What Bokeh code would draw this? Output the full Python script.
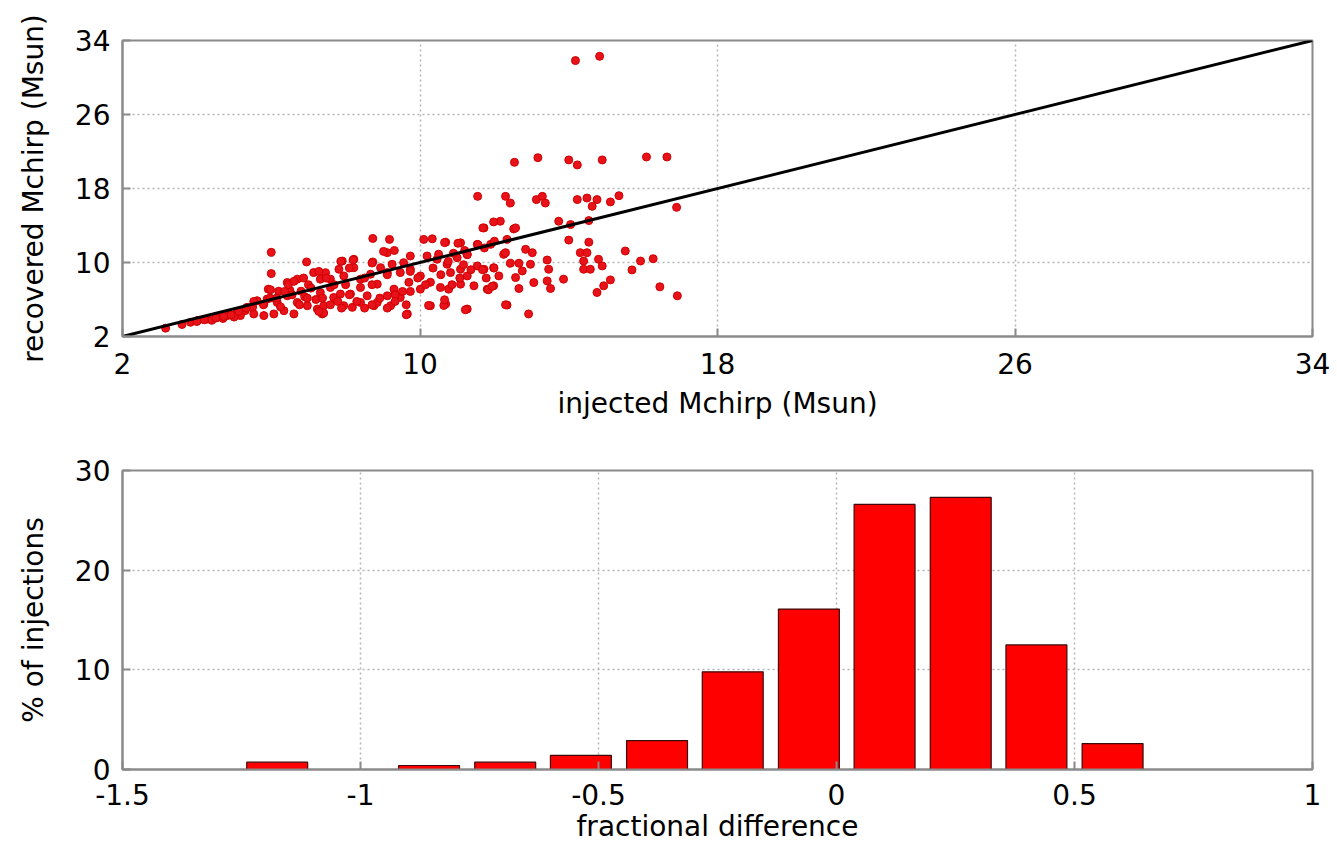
from bokeh.plotting import figure
from bokeh.layouts import column
from bokeh.models import FixedTicker, Range1d
from bokeh.embed import file_html
from bokeh.resources import INLINE

# ---------------- data ----------------
injected_mchirp = [
    6.0, 6.95, 6.0, 5.92, 6.43, 6.70, 7.14, 7.32, 5.62, 5.89, 6.16, 6.43, 6.70, 6.97, 7.24, 7.37,
    5.35, 5.08, 4.82, 5.17, 5.53, 5.80, 6.07, 4.55, 4.28, 4.01, 3.83, 3.16, 6.34, 6.61, 3.6, 4.4,
    4.7, 5.0, 5.5, 5.8, 6.2, 6.5, 6.8, 7.0, 6.9, 7.2, 5.3, 6.25,
    8.73, 9.18, 9.12, 9.31, 7.91, 8.22, 8.73, 8.22, 7.82, 7.46, 7.59, 7.95, 8.40, 8.67, 8.85, 8.40,
    8.13, 7.68, 7.41, 7.95, 8.40, 8.76, 9.21, 7.41, 8.18, 9.12, 9.30, 9.47, 9.66, 9.70, 9.47, 9.74,
    9.12, 10.1, 10.33, 10.69, 11.09, 11.54, 11.72, 11.90, 12.25, 10.19, 10.46, 10.73, 11.0, 11.27,
    11.09, 10.82, 11.27, 11.54, 11.72, 11.98, 12.12, 10.01, 10.28, 10.01, 10.55, 10.77, 11.09, 11.45,
    11.81, 11.98, 10.28, 10.69, 11.27, 9.74, 9.56, 9.25, 8.94, 7.32, 7.59, 7.86, 8.58, 8.85,
    12.52, 12.34, 12.30, 14.0, 14.54, 12.84, 13.02, 12.43, 12.66, 12.97, 12.75, 13.42, 13.46, 12.57,
    13.42, 13.06, 13.86, 12.66, 13.51, 14.31, 14.49, 14.40, 14.40, 14.58, 14.80, 14.90, 15.52, 15.93,
    16.27, 15.70, 15.12, 14.94, 14.76, 16.45, 16.92, 12.34, 12.92,
    12.54, 13.17, 14.0, 14.23, 14.90, 16.09, 16.64, 12.30, 12.43, 13.13, 13.29, 13.37, 14.23, 14.49,
    14.63, 14.76, 15.12, 15.35, 16.90, 12.16, 12.57, 13.73, 14.05, 14.54,
    11.55, 11.98, 11.69, 14.18, 14.83, 11.2, 10.9, 10.5, 12.0, 11.56, 11.73, 10.66, 11.02,
    5.98, 5.97, 6.46, 6.61, 6.87, 7.07, 7.28, 7.48, 7.69, 7.87, 8.20, 8.10, 8.00, 8.10, 8.30, 8.51,
    8.71, 8.71, 9.02, 9.12, 9.33, 9.53, 9.74, 9.94, 10.15, 10.35, 10.56, 10.76, 10.86, 11.07, 11.17,
    11.27, 11.37, 11.68, 11.99, 11.78, 5.53, 5.33, 5.13, 4.92, 4.72, 4.51, 4.20, 4.00, 5.79, 6.15,
    6.36, 6.56, 6.76, 6.97, 7.28, 7.38, 7.59, 7.79, 7.89, 8.51, 8.71, 9.12, 8.92, 9.63, 9.33, 9.74,
    9.63, 10.23, 10.64, 10.66, 11.22, 11.84, 11.94, 12.3,
]
recovered_mchirp = [
    11.1, 10.06, 8.8, 7.12, 7.83, 8.2, 8.91, 8.2, 5.87, 6.05, 5.68, 6.40, 5.68, 5.33, 4.97, 4.44,
    5.15, 4.61, 4.26, 4.26, 4.44, 4.26, 4.44, 4.07, 3.9, 3.72, 3.54, 2.9, 4.79, 4.44, 3.3, 3.75,
    3.95, 4.1, 5.2, 5.5, 6.9, 7.0, 6.9, 7.6, 6.3, 6.0, 4.8, 5.2,
    12.6, 12.5, 11.06, 11.3, 10.16, 10.35, 10.06, 9.44, 9.27, 8.9, 8.2, 8.55, 8.2, 8.73, 7.66, 7.30,
    6.59, 6.22, 5.33, 5.33, 5.68, 5.33, 5.33, 4.54, 5.15, 6.4, 7.12, 6.22, 4.44, 7.86, 8.91, 9.27,
    8.91, 12.5, 12.56, 12.2, 12.13, 11.96, 13.74, 11.96, 10.88, 10.7, 10.35, 9.81, 10.52, 10.88,
    9.27, 8.91, 8.55, 9.63, 9.27, 9.44, 8.55, 8.55, 7.86, 7.12, 7.30, 7.12, 7.66, 7.48,
    7.12, 7.48, 5.33, 5.51, 4.97, 10.7, 9.98, 9.81, 9.44, 6.76, 7.30, 6.59, 6.40, 5.68,
    13.63, 12.5, 11.06, 12.42, 12.2, 11.42, 11.06, 9.92, 9.92, 9.81, 9.09, 10.27, 9.27, 8.37,
    8.01, 7.83, 8.2, 7.19, 7.19, 11.06, 11.06, 10.16, 9.27, 9.27, 10.35, 9.63, 11.24, 10.16,
    10.41, 9.20, 8.12, 7.48, 6.76, 7.37, 6.40, 5.4, 4.44,
    20.83, 21.33, 21.09, 20.55, 21.09, 21.41, 21.41, 17.15, 16.43, 16.8, 17.15, 16.43, 16.8, 16.97,
    16.07, 16.8, 16.55, 17.22, 15.96, 14.46, 13.74, 14.46, 14.10, 14.53,
    17.15, 14.39, 13.74, 31.83, 32.29, 11.3, 11.0, 10.9, 12.3, 11.93, 11.57, 12.15, 12.08,
    7.05, 6.15, 7.6, 7.96, 8.32, 7.23, 9.04, 8.32, 7.6, 10.12, 10.27, 9.4, 7.6, 6.51, 5.79, 8.32,
    9.94, 7.6, 11.2, 8.68, 6.51, 6.87, 9.04, 8.32, 7.6, 9.4, 8.68, 10.12, 7.6, 8.32, 9.76,
    10.84, 9.22, 9.22, 9.4, 8.32, 5.79, 5.07, 4.71, 4.35, 4.17, 3.99, 3.80, 3.62, 5.43, 6.15,
    6.87, 6.51, 5.43, 6.15, 4.71, 6.15, 5.43, 5.79, 5.07, 5.07, 5.43, 5.07, 6.15, 5.43, 5.79, 6.87,
    4.35, 5.36, 5.36, 5.97, 4.89, 7.05, 7.42, 5.43,
]
identity_line = [2, 34]

frac_diff_bins = [-1.175, -0.856, -0.696, -0.537, -0.377, -0.218, -0.058, 0.101, 0.261, 0.420, 0.580]
pct_injections = [0.73, 0.4, 0.73, 1.42, 2.9, 9.8, 16.1, 26.6, 27.3, 12.5, 2.6]

top_ticks = [2, 10, 18, 26, 34]
bot_x_ticks = [-1.5, -1, -0.5, 0, 0.5, 1]
bot_x_labels = ["-1.5", "-1", "-0.5", "0", "0.5", "1"]
bot_y_ticks = [0, 10, 20, 30]

FONT = "DejaVu Sans"
FS = "28px"
AXIS_COL = "#8a8a8a"
GRID_COL = "#b4b4b4"


def style(p, xt, yt):
    p.outline_line_color = AXIS_COL
    p.outline_line_width = 2
    xa = p.below[0]
    ya = p.left[0]
    xa.ticker = FixedTicker(ticks=xt)
    ya.ticker = FixedTicker(ticks=yt)
    for ax in (xa, ya):
        ax.axis_line_color = AXIS_COL
        ax.axis_line_width = 2
        ax.major_tick_in = 8
        ax.major_tick_out = 0
        ax.major_tick_line_color = AXIS_COL
        ax.major_tick_line_width = 2
        ax.minor_tick_line_color = None
        ax.major_label_text_font = FONT
        ax.major_label_text_font_size = FS
        ax.major_label_text_color = "black"
        ax.axis_label_text_font = FONT
        ax.axis_label_text_font_size = FS
        ax.axis_label_text_font_style = "normal"
        ax.axis_label_text_color = "black"
    p.xgrid[0].ticker = FixedTicker(ticks=xt[1:-1])
    p.ygrid[0].ticker = FixedTicker(ticks=yt[1:-1])
    for g in (p.xgrid[0], p.ygrid[0]):
        g.grid_line_color = GRID_COL
        g.grid_line_dash = "2 3"
        g.grid_line_width = 1.5
    return xa, ya


# ---------------- top: scatter ----------------
top = figure(width=1337, height=440, x_range=Range1d(2, 34), y_range=Range1d(2, 34),
             output_backend="svg", toolbar_location=None,
             min_border_left=122, min_border_right=25, min_border_top=40, min_border_bottom=104)
txa, tya = style(top, top_ticks, top_ticks)
txa.axis_label = "injected Mchirp (Msun)"
tya.axis_label = "recovered Mchirp (Msun)"
txa.major_label_standoff = 16
txa.axis_label_standoff = 10
tya.major_label_standoff = 12
tya.axis_label_standoff = 22

top.scatter(injected_mchirp, recovered_mchirp, size=8, color="#e8121a", line_color="#d00000")
top.line(identity_line, identity_line, line_color="black", line_width=3)

# ---------------- bottom: histogram ----------------
bot = figure(width=1337, height=415, x_range=Range1d(-1.5, 1), y_range=Range1d(0, 30),
             output_backend="svg", toolbar_location=None,
             min_border_left=122, min_border_right=25, min_border_top=30, min_border_bottom=86)
bxa, bya = style(bot, bot_x_ticks, bot_y_ticks)
bxa.major_label_overrides = {t: s for t, s in zip(bot_x_ticks, bot_x_labels)}
bxa.axis_label = "fractional difference"
bya.axis_label = "% of injections"
bxa.major_label_standoff = 14
bxa.axis_label_standoff = 2
bya.major_label_standoff = 12
bya.axis_label_standoff = 22

bot.vbar(x=frac_diff_bins, top=pct_injections, bottom=0, width=0.128,
         fill_color="#ff0000", line_color="#3a0a0a", line_width=1.2)

layout = column(top, bot, spacing=0)
open("out.html", "w").write(file_html(layout, INLINE))
